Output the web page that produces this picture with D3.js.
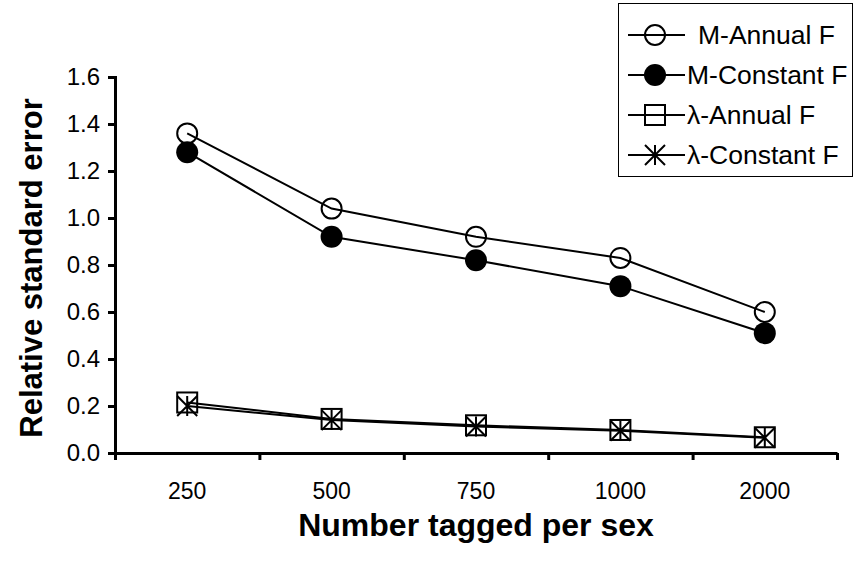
<!DOCTYPE html>
<html>
<head>
<meta charset="utf-8">
<script src="https://cdn.jsdelivr.net/npm/d3@7"></script>
<style>
  body { margin: 0; background: #fff; }
  text { font-family: "Liberation Sans", Arial, sans-serif; fill: #000; }
</style>
</head>
<body>
<div id="chart"></div>
<script>
// data
var categories = ["250", "500", "750", "1000", "2000"];
var mAnnual = [1.36, 1.04, 0.92, 0.83, 0.60];
var mConstant = [1.28, 0.92, 0.82, 0.71, 0.51];
var lambdaAnnual = [0.215, 0.145, 0.118, 0.098, 0.067];
var lambdaConstant = [0.20, 0.14, 0.113, 0.095, 0.065];
var yTicks = [0, 0.2, 0.4, 0.6, 0.8, 1.0, 1.2, 1.4, 1.6];
var seriesNames = ["M-Annual F", "M-Constant F", "\u03bb-Annual F", "\u03bb-Constant F"];

var width = 855, height = 567;
var plotLeft = 115, plotRight = 837, plotTop = 77, plotBottom = 453;

var svg = d3.select("#chart").append("svg")
    .attr("width", width)
    .attr("height", height);

var x = d3.scaleBand().domain(categories).range([plotLeft, plotRight]);
var xEdge = d3.scaleLinear().domain([0, categories.length]).range([plotLeft, plotRight]);
var y = d3.scaleLinear().domain([0, 1.6]).range([plotBottom, plotTop]);

// y axis
var yAxis = svg.append("g")
    .attr("transform", "translate(" + plotLeft + ",0)")
    .call(d3.axisLeft(y).tickValues(yTicks).tickFormat(d3.format(".1f")).tickSize(7).tickPadding(8));
yAxis.select(".domain").attr("stroke-width", 3);
yAxis.selectAll(".tick line").attr("stroke-width", 3);
yAxis.selectAll("text").style("font-size", "24px").style("font-family", "'Liberation Sans', Arial, sans-serif");

// x axis: ticks at the category edges, labels at the centres
var xTicks = svg.append("g")
    .attr("transform", "translate(0," + plotBottom + ")")
    .call(d3.axisBottom(xEdge).tickValues(d3.range(categories.length + 1)).tickFormat("").tickSize(7).tickSizeOuter(0));
xTicks.select(".domain").attr("stroke-width", 3);
xTicks.selectAll(".tick line").attr("stroke-width", 3);

var xLabels = svg.append("g")
    .attr("transform", "translate(0," + plotBottom + ")")
    .call(d3.axisBottom(x).tickSize(0).tickPadding(30));
xLabels.select(".domain").remove();
xLabels.selectAll("text").style("font-size", "23px").style("font-family", "'Liberation Sans', Arial, sans-serif");

// axis titles
svg.append("text")
    .attr("x", 476)
    .attr("y", 536)
    .attr("text-anchor", "middle")
    .style("font-size", "32px")
    .style("font-weight", "bold")
    .text("Number tagged per sex");

svg.append("text")
    .attr("transform", "translate(42,268) rotate(-90)")
    .attr("text-anchor", "middle")
    .style("font-size", "31px")
    .style("font-weight", "bold")
    .text("Relative standard error");

// markers
function drawMarker(g, type, cx, cy) {
    if (type == "openCircle") {
        g.append("circle").attr("cx", cx).attr("cy", cy).attr("r", 10)
            .attr("fill", "none").attr("stroke", "#000").attr("stroke-width", 2);
    } else if (type == "filledCircle") {
        g.append("circle").attr("cx", cx).attr("cy", cy).attr("r", 11)
            .attr("fill", "#000");
    } else if (type == "square") {
        g.append("rect").attr("x", cx - 10).attr("y", cy - 10).attr("width", 20).attr("height", 20)
            .attr("fill", "none").attr("stroke", "#000").attr("stroke-width", 2);
    } else if (type == "star") {
        var s = 10;
        g.append("path")
            .attr("d", "M" + (cx - s) + "," + (cy - s) + "L" + (cx + s) + "," + (cy + s) +
                       "M" + (cx + s) + "," + (cy - s) + "L" + (cx - s) + "," + (cy + s) +
                       "M" + cx + "," + (cy - s) + "L" + cx + "," + (cy + s))
            .attr("stroke", "#000").attr("stroke-width", 2).attr("fill", "none");
    }
}

var series = [
    {name: seriesNames[0], values: mAnnual, marker: "openCircle"},
    {name: seriesNames[1], values: mConstant, marker: "filledCircle"},
    {name: seriesNames[2], values: lambdaAnnual, marker: "square"},
    {name: seriesNames[3], values: lambdaConstant, marker: "star"}
];

var line = d3.line()
    .x(function(d, i) { return x(categories[i]) + x.bandwidth() / 2; })
    .y(function(d) { return y(d); });

series.forEach(function(s) {
    var g = svg.append("g");
    g.append("path")
        .attr("d", line(s.values))
        .attr("fill", "none")
        .attr("stroke", "#000")
        .attr("stroke-width", 2);
    s.values.forEach(function(v, i) {
        drawMarker(g, s.marker, x(categories[i]) + x.bandwidth() / 2, y(v));
    });
});

// legend
var legend = svg.append("g");
legend.append("rect")
    .attr("x", 618.5).attr("y", 3.5)
    .attr("width", 234).attr("height", 173)
    .attr("fill", "#fff").attr("stroke", "#000").attr("stroke-width", 1);

series.forEach(function(s, i) {
    var cy = 35 + i * 40;
    legend.append("line")
        .attr("x1", 628).attr("x2", 685).attr("y1", cy).attr("y2", cy)
        .attr("stroke", "#000").attr("stroke-width", 2);
    drawMarker(legend, s.marker, 655, cy);
    legend.append("text")
        .attr("x", i == 0 ? 698 : 687)
        .attr("y", cy)
        .attr("dy", "0.35em")
        .style("font-size", "26.5px")
        .text(s.name);
});
</script>
</body>
</html>
